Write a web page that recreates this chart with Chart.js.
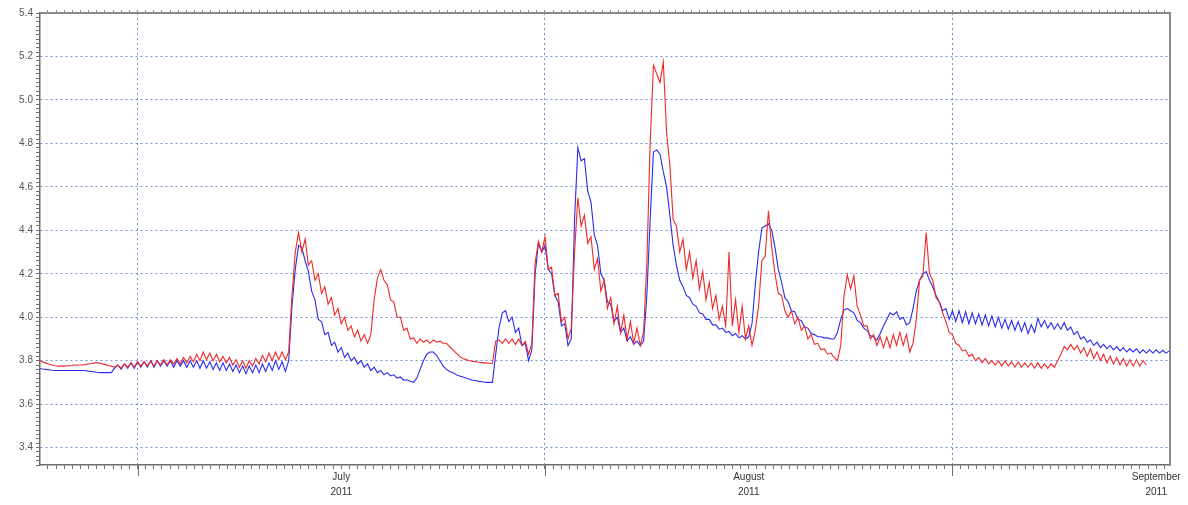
<!DOCTYPE html>
<html>
<head>
<meta charset="utf-8">
<title>Level 2011</title>
<script src="https://cdn.jsdelivr.net/npm/chart.js@4.4.1/dist/chart.umd.min.js"></script>
<style>
  body { margin: 0; background: #fff; }
  #wrap { width: 1188px; height: 505px; }
</style>
</head>
<body>
<div id="wrap"><canvas id="chart" width="1188" height="505"></canvas></div>
<script>
// time axis in days counted from 1 July 2011, one reading every 6 hours
var startDay = -7.5;
var stepDays = 0.25;

var monthStarts = [0, 31, 62];
var monthLabels = [['July', '2011'], ['August', '2011'], ['September', '2011']];
var monthLabelDays = [15.5, 46.5, 77.5];

var blueLevel = [
  3.765, 3.762, 3.76, 3.758, 3.756, 3.755, 3.755, 3.755, 3.755, 3.755,
  3.755, 3.755, 3.755, 3.755, 3.755, 3.752, 3.75, 3.748, 3.746, 3.745,
  3.745, 3.745, 3.745, 3.765, 3.78, 3.76, 3.785, 3.765, 3.79, 3.765,
  3.795, 3.77, 3.795, 3.77, 3.80, 3.77, 3.80, 3.775, 3.80, 3.775,
  3.80, 3.77, 3.80, 3.775, 3.80, 3.77, 3.80, 3.77, 3.80, 3.765,
  3.80, 3.765, 3.795, 3.76, 3.79, 3.755, 3.79, 3.755, 3.785, 3.75,
  3.78, 3.745, 3.775, 3.74, 3.775, 3.745, 3.78, 3.745, 3.785, 3.75,
  3.79, 3.755, 3.80, 3.76, 3.795, 3.75, 3.80, 4.05, 4.22, 4.33,
  4.32, 4.26, 4.21, 4.12, 4.08, 3.99, 3.98, 3.92, 3.93, 3.87,
  3.885, 3.84, 3.86, 3.815, 3.835, 3.80, 3.815, 3.785, 3.80, 3.77,
  3.785, 3.755, 3.77, 3.745, 3.755, 3.735, 3.745, 3.73, 3.735, 3.72,
  3.725, 3.71, 3.712, 3.705, 3.70, 3.72, 3.76, 3.80, 3.83, 3.84,
  3.84, 3.825, 3.80, 3.775, 3.76, 3.75, 3.745, 3.735, 3.73, 3.725,
  3.72, 3.715, 3.71, 3.708, 3.705, 3.703, 3.70, 3.70, 3.70, 3.83,
  3.95, 4.02, 4.03, 3.98, 4.00, 3.93, 3.95, 3.87, 3.88, 3.80,
  3.85, 4.20, 4.34, 4.30, 4.33, 4.22, 4.20, 4.10, 4.07, 3.96,
  3.97, 3.87, 3.90, 4.45, 4.78, 4.72, 4.73, 4.58, 4.53, 4.38,
  4.33, 4.20, 4.17, 4.07, 4.06, 3.98, 4.00, 3.93, 3.95, 3.89,
  3.91, 3.875, 3.89, 3.87, 3.89, 4.10, 4.45, 4.76, 4.77, 4.75,
  4.67, 4.60, 4.47, 4.33, 4.24, 4.17, 4.14, 4.10, 4.09, 4.06,
  4.05, 4.02, 4.015, 3.99, 3.99, 3.965, 3.965, 3.945, 3.95, 3.93,
  3.935, 3.915, 3.925, 3.905, 3.915, 3.90, 3.91, 3.97, 4.15, 4.30,
  4.41, 4.42, 4.43, 4.40, 4.32, 4.22, 4.16, 4.09, 4.07, 4.03,
  4.025, 3.99, 3.985, 3.955, 3.95, 3.925, 3.92, 3.91, 3.91, 3.905,
  3.905, 3.90, 3.90, 3.93, 3.99, 4.035, 4.04, 4.03, 4.02, 3.985,
  3.975, 3.95, 3.94, 3.915, 3.91, 3.895, 3.925, 3.96, 3.99, 4.02,
  4.01, 4.025, 3.99, 4.0, 3.965, 3.975, 4.04, 4.12, 4.17, 4.20,
  4.21, 4.17, 4.14, 4.10, 4.07, 4.03, 4.04, 3.99, 4.03, 3.98,
  4.03, 3.975, 4.025, 3.97, 4.02, 3.97, 4.015, 3.965, 4.01, 3.96,
  4.005, 3.955, 4.0, 3.95, 3.99, 3.945, 3.985, 3.94, 3.98, 3.935,
  3.975, 3.925, 3.965, 3.93, 3.995, 3.955, 3.985, 3.95, 3.975, 3.945,
  3.97, 3.945, 3.975, 3.94, 3.955, 3.92, 3.935, 3.90, 3.91, 3.885,
  3.895, 3.87, 3.885, 3.86, 3.875, 3.855, 3.87, 3.85, 3.865, 3.845,
  3.86, 3.84, 3.855, 3.84, 3.855, 3.835, 3.85, 3.835, 3.85, 3.835,
  3.85, 3.835, 3.848, 3.835, 3.845
];

var redLevel = [
  3.80, 3.795, 3.79, 3.785, 3.78, 3.777, 3.775, 3.775, 3.775, 3.777,
  3.778, 3.78, 3.78, 3.78, 3.782, 3.785, 3.787, 3.79, 3.79, 3.787,
  3.783, 3.778, 3.775, 3.77, 3.78, 3.765, 3.785, 3.77, 3.79, 3.77,
  3.795, 3.775, 3.795, 3.775, 3.80, 3.775, 3.80, 3.78, 3.805, 3.78,
  3.805, 3.785, 3.81, 3.785, 3.815, 3.79, 3.82, 3.795, 3.83, 3.80,
  3.84, 3.805, 3.835, 3.80, 3.83, 3.795, 3.82, 3.79, 3.815, 3.78,
  3.805, 3.77, 3.80, 3.765, 3.80, 3.775, 3.81, 3.785, 3.825, 3.795,
  3.835, 3.80, 3.84, 3.805, 3.84, 3.805, 3.84, 4.10, 4.30, 4.39,
  4.30, 4.36, 4.24, 4.26, 4.17, 4.20, 4.11, 4.14, 4.06, 4.09,
  4.01, 4.04, 3.97, 4.00, 3.94, 3.96, 3.91, 3.94, 3.89, 3.92,
  3.88, 3.92, 4.08, 4.18, 4.22, 4.17, 4.15, 4.08, 4.07, 4.00,
  4.00, 3.94, 3.95, 3.90, 3.905, 3.88, 3.90, 3.885, 3.895, 3.88,
  3.895, 3.885, 3.89, 3.88, 3.88, 3.865, 3.85, 3.835, 3.82, 3.81,
  3.805, 3.80, 3.797, 3.795, 3.793, 3.79, 3.79, 3.788, 3.787, 3.89,
  3.895, 3.88, 3.90, 3.88, 3.90, 3.875, 3.90, 3.87, 3.89, 3.83,
  3.88, 4.25, 4.35, 4.30, 4.37, 4.22, 4.23, 4.10, 4.11, 3.98,
  4.00, 3.90, 3.95, 4.30, 4.55, 4.42, 4.47, 4.34, 4.37, 4.22,
  4.27, 4.12, 4.17, 4.04, 4.09, 3.97, 4.05, 3.93, 4.01, 3.90,
  3.98, 3.88, 3.95, 3.87, 3.93, 4.25, 4.80, 5.16, 5.12, 5.08,
  5.175, 4.85, 4.70, 4.45, 4.42, 4.30, 4.36, 4.22, 4.30, 4.18,
  4.26, 4.13, 4.21, 4.08, 4.16, 4.04, 4.10, 3.99, 4.05, 3.96,
  4.30, 3.96, 4.08, 3.93, 4.05, 3.90, 3.96, 3.87, 3.94, 4.05,
  4.26, 4.28, 4.49, 4.32, 4.20, 4.11, 4.10, 4.03, 4.00, 4.03,
  3.97, 4.00, 3.94, 3.96, 3.90, 3.92, 3.875, 3.88, 3.85, 3.855,
  3.83, 3.835, 3.815, 3.80, 3.87, 4.10, 4.195, 4.13, 4.19, 4.05,
  4.01, 3.96, 3.96, 3.90, 3.92, 3.87, 3.91, 3.86, 3.91, 3.86,
  3.92, 3.87, 3.93, 3.87, 3.92, 3.84, 3.88, 3.99, 4.17, 4.19,
  4.39, 4.20, 4.17, 4.09, 4.07, 4.02, 3.98, 3.93, 3.92, 3.88,
  3.87, 3.845, 3.85, 3.82, 3.83, 3.80, 3.815, 3.79, 3.81, 3.785,
  3.80, 3.78, 3.80, 3.775, 3.80, 3.775, 3.795, 3.77, 3.795, 3.77,
  3.79, 3.77, 3.79, 3.765, 3.79, 3.765, 3.785, 3.765, 3.785, 3.77,
  3.80, 3.83, 3.865, 3.85, 3.875, 3.85, 3.87, 3.835, 3.86, 3.82,
  3.855, 3.81, 3.84, 3.80, 3.83, 3.79, 3.82, 3.785, 3.815, 3.78,
  3.81, 3.775, 3.805, 3.775, 3.805, 3.775, 3.80, 3.78
];

var gridBlue = 'rgba(70,110,200,0.75)';
var axisGrey = '#6e6e6e';

function toPoints(values){
  var pts = [];
  for (var i = 0; i < values.length; i++) {
    pts.push({ x: startDay + i * stepDays, y: values[i] });
  }
  return pts;
}

function isMonthStart(v){
  for (var i = 0; i < monthStarts.length; i++) {
    if (Math.abs(v - monthStarts[i]) < 1e-6) return true;
  }
  return false;
}

function monthLabelFor(v){
  for (var i = 0; i < monthLabelDays.length; i++) {
    if (Math.abs(v - monthLabelDays[i]) < 1e-6) return monthLabels[i];
  }
  return '';
}

// minor ticks: 50 per month, the mid month label falls on one of them
function dayTicks(scale){
  var t = [];
  for (var k = -11; k <= 126; k++) {
    t.push({ value: Math.round(k * 0.62 * 1000) / 1000 });
  }
  scale.ticks = t;
}

function levelTicks(scale){
  var t = [];
  for (var k = 166; k <= 270; k++) {
    t.push({ value: Math.round(k * 2) / 100 });
  }
  scale.ticks = t;
}

function isMajorLevel(v){
  return Math.abs(v * 5 - Math.round(v * 5)) < 1e-6 && v > 3.35;
}

var majorTicks = {
  id: 'majorTicks',
  afterDraw: function(chart){
    var ctx = chart.ctx, sx = chart.scales.x, bottom = chart.chartArea.bottom;
    ctx.save();
    ctx.strokeStyle = axisGrey;
    ctx.lineWidth = 1;
    monthStarts.forEach(function(d){
      var px = Math.round(sx.getPixelForValue(d)) + 0.5;
      ctx.beginPath();
      ctx.moveTo(px, bottom);
      ctx.lineTo(px, bottom + 11);
      ctx.stroke();
    });
    ctx.restore();
  }
};

var ctx = document.getElementById('chart').getContext('2d');
var myChart = new Chart(ctx, {
  type: 'line',
  data: {
    datasets: [{
      label: 'red',
      data: toPoints(redLevel),
      borderColor: '#f02828',
      borderWidth: 1.1,
      pointRadius: 0,
      tension: 0
    }, {
      label: 'blue',
      data: toPoints(blueLevel),
      borderColor: '#2a2af0',
      borderWidth: 1.1,
      pointRadius: 0,
      tension: 0
    }]
  },
  options: {
    responsive: false,
    animation: false,
    devicePixelRatio: 1,
    layout: { padding: 0 },
    plugins: { legend: { display: false }, tooltip: { enabled: false } },
    scales: {
      x: {
        type: 'linear',
        position: 'bottom',
        min: -7.42,
        max: 78.55,
        afterBuildTicks: dayTicks,
        afterFit: function(s){ s.height = 40; },
        ticks: {
          autoSkip: false,
          maxRotation: 0,
          padding: 0,
          color: '#333',
          font: { family: 'Liberation Sans', size: 10, lineHeight: 1.55 },
          callback: function(v){ return monthLabelFor(v); }
        },
        grid: {
          tickLength: 4,
          tickColor: axisGrey,
          color: function(c){ return c.tick && isMonthStart(c.tick.value) ? gridBlue : 'rgba(0,0,0,0)'; }
        },
        border: { color: axisGrey, width: 1.5, dash: [2, 3] }
      },
      x2: {
        type: 'linear',
        position: 'top',
        min: -7.42,
        max: 78.55,
        afterBuildTicks: dayTicks,
        afterFit: function(s){ s.height = 13; },
        ticks: { autoSkip: false, maxRotation: 0, callback: function(){ return ''; } },
        grid: { drawOnChartArea: false, tickLength: 3, color: '#8a8a8a' },
        border: { color: '#8a8a8a', width: 2 }
      },
      y: {
        type: 'linear',
        position: 'left',
        min: 3.32,
        max: 5.4,
        afterBuildTicks: levelTicks,
        afterFit: function(s){ s.width = 40; },
        ticks: {
          autoSkip: false,
          padding: 3,
          color: '#555',
          font: { family: 'Liberation Sans', size: 10 },
          callback: function(v){ return isMajorLevel(v) ? v.toFixed(1) : ''; }
        },
        grid: {
          tickLength: 4,
          tickColor: axisGrey,
          color: function(c){ return c.tick && isMajorLevel(c.tick.value) && c.tick.value < 5.39 ? gridBlue : 'rgba(0,0,0,0)'; }
        },
        border: { color: axisGrey, width: 1.5, dash: [2, 3] }
      },
      y2: {
        type: 'linear',
        position: 'right',
        afterFit: function(s){ s.width = 18; },
        ticks: { display: false },
        grid: { display: false },
        border: { color: '#8a8a8a', width: 2 }
      }
    }
  },
  plugins: [majorTicks]
});
</script>
</body>
</html>
